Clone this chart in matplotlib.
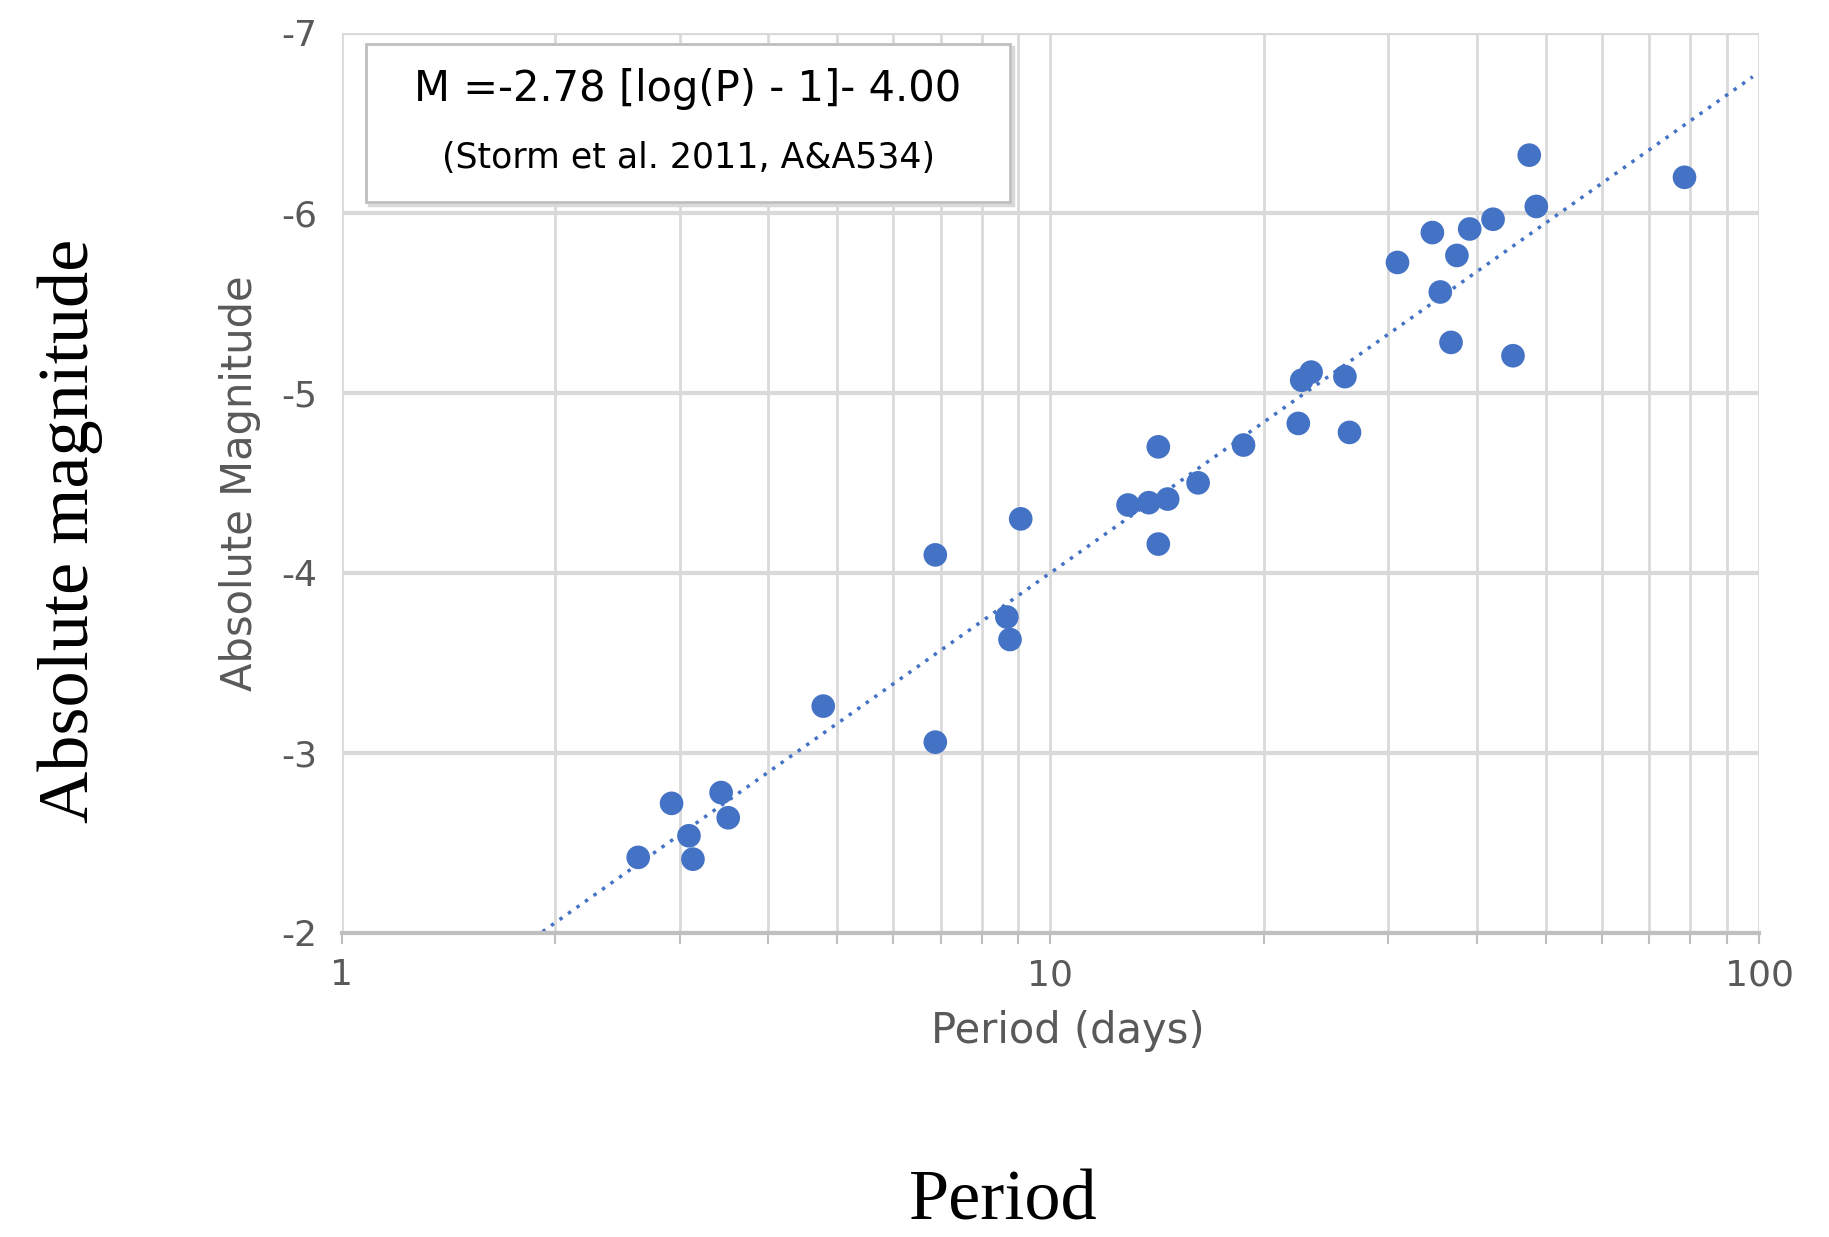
import matplotlib
matplotlib.use("Agg")
import matplotlib.pyplot as plt
import numpy as np
from matplotlib.ticker import FixedLocator, NullFormatter
from matplotlib.patches import Rectangle

# Data
period_days = [2.62, 2.92, 3.09, 3.13, 3.43, 3.51, 4.78, 6.88, 6.88, 8.68, 8.77, 9.08,
               12.87, 13.77, 14.64, 14.2, 14.2, 16.16, 18.73, 22.38, 22.63, 23.33,
               26.04, 26.43, 30.89, 34.6, 35.5, 36.76, 37.47, 39.06, 42.14, 44.96,
               47.4, 48.5, 78.5]
abs_mag = [-2.42, -2.72, -2.54, -2.41, -2.78, -2.64, -3.26, -3.06, -4.10, -3.755, -3.63, -4.30,
           -4.377, -4.39, -4.41, -4.70, -4.16, -4.50, -4.71, -4.83, -5.07, -5.115,
           -5.09, -4.78, -5.724, -5.89, -5.56, -5.28, -5.763, -5.91, -5.964, -5.206,
           -6.32, -6.035, -6.197]

fit_slope = -2.78
fit_intercept = -4.00
fit_period_range = [1.92, 98.0]

x_ticks = [1, 10, 100]
x_tick_labels = ["1", "10", "100"]
y_ticks = [-7, -6, -5, -4, -3, -2]
y_tick_labels = ["-7", "-6", "-5", "-4", "-3", "-2"]

equation_text = "M =-2.78 [log(P) - 1]- 4.00"
reference_text = "(Storm et al. 2011, A&A534)"

blue = "#4472c4"
grid_c = "#d9d9d9"
txt_c = "#595959"

W, H = 1829, 1237
fig = plt.figure(figsize=(W / 100, H / 100), dpi=100)
ax_left, ax_right, ax_top, ax_bottom = 341.8, 1759.0, 32.7, 933.0
ax = fig.add_axes([ax_left / W, 1 - ax_bottom / H, (ax_right - ax_left) / W, (ax_bottom - ax_top) / H])

ax.set_xscale("log")
ax.set_xlim(1, 100)
ax.set_ylim(-2, -7)

# grid
ax.xaxis.set_major_locator(FixedLocator(x_ticks))
minor = [m * d for d in (1, 10) for m in range(2, 10)]
ax.xaxis.set_minor_locator(FixedLocator(minor))
ax.xaxis.set_minor_formatter(NullFormatter())
ax.set_xticklabels(x_tick_labels)
ax.set_yticks(y_ticks)
ax.set_yticklabels(y_tick_labels)
ax.grid(True, which="major", axis="y", color=grid_c, lw=3, zorder=0)
ax.grid(True, which="both", axis="x", color=grid_c, lw=2, zorder=0)
for s in ["top", "right", "left"]:
    ax.spines[s].set_visible(False)
ax.spines["bottom"].set_color("#bfbfbf")
ax.spines["bottom"].set_linewidth(3)
ax.tick_params(axis="y", length=0, pad=18, labelsize=26, labelcolor=txt_c)
ax.tick_params(axis="x", which="both", length=8, width=1.5, color="#bfbfbf",
               pad=10, labelsize=26, labelcolor=txt_c)
ax.set_axisbelow(True)

# trend line
xp = np.logspace(np.log10(fit_period_range[0]), np.log10(fit_period_range[1]), 200)
ax.plot(xp, fit_slope * (np.log10(xp) - 1) + fit_intercept, ls=(0, (1, 2)), color=blue, lw=2.5, zorder=2)

# points
ax.scatter(period_days, abs_mag, s=290, color=blue, edgecolors="none", zorder=3)

# inner axis labels
ax.set_xlabel("Period (days)", fontsize=30, color=txt_c, labelpad=12)
ax.xaxis.set_label_coords(0.512, -0.085)
ax.set_ylabel("Absolute Magnitude", fontsize=30, color=txt_c, labelpad=14)

# equation box
bx0, bx1, by0, by1 = 0.0171, 0.4715, 0.812, 0.9874
ax.add_patch(Rectangle((bx0 + 0.002, by0 - 0.003), bx1 - bx0, by1 - by0, transform=ax.transAxes,
                       facecolor="none", edgecolor="#d9d9d9", lw=2.5, zorder=4))
ax.add_patch(Rectangle((bx0, by0), bx1 - bx0, by1 - by0, transform=ax.transAxes,
                       facecolor="white", edgecolor="#bfbfbf", lw=2, zorder=5))
cx = (bx0 + bx1) / 2
ax.text(cx, 0.937, equation_text, transform=ax.transAxes, ha="center", va="center",
        fontsize=30, color="black", zorder=6)
ax.text(cx, 0.861, reference_text, transform=ax.transAxes, ha="center", va="center",
        fontsize=25, color="black", zorder=6)

# outer labels
fig.text(70 / W, 1 - 531 / H, "Absolute magnitude", rotation=90, ha="center", va="center",
         fontsize=52, family="Liberation Serif", color="black")
fig.text(1003 / W, 1 - 1202 / H, "Period", ha="center", va="center",
         fontsize=52, family="Liberation Serif", color="black")

fig.savefig("out.png", dpi=100)
